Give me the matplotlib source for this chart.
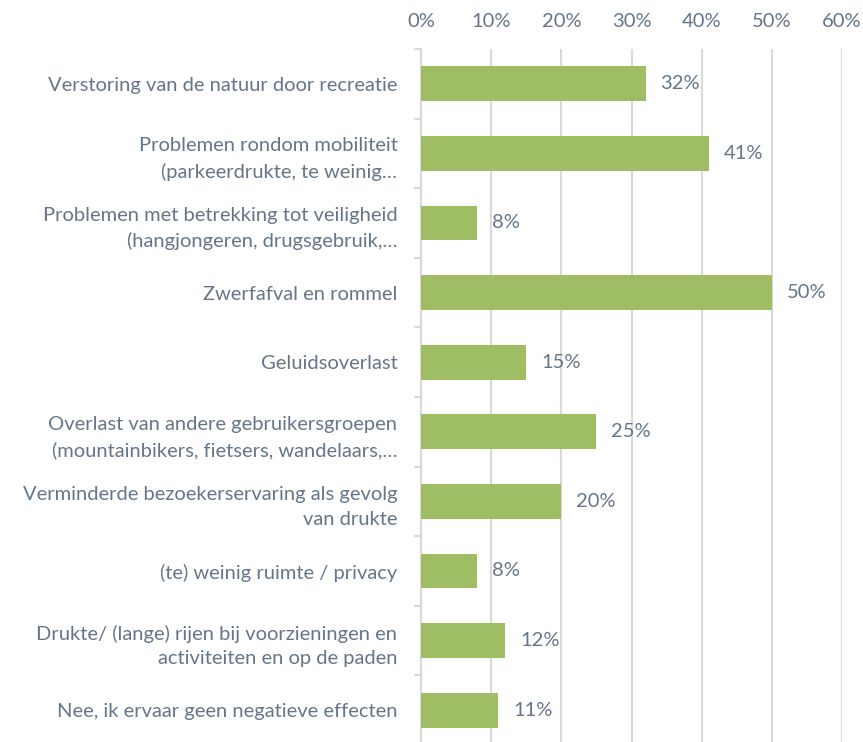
import matplotlib
matplotlib.use("Agg")
import matplotlib.pyplot as plt
from matplotlib.ticker import FixedLocator, PercentFormatter

categories = [
    "Verstoring van de natuur door recreatie",
    "Problemen rondom mobiliteit\n(parkeerdrukte, te weinig\u2026",
    "Problemen met betrekking tot veiligheid\n(hangjongeren, drugsgebruik,\u2026",
    "Zwerfafval en rommel",
    "Geluidsoverlast",
    "Overlast van andere gebruikersgroepen\n(mountainbikers, fietsers, wandelaars,\u2026",
    "Verminderde bezoekerservaring als gevolg\nvan drukte",
    "(te) weinig ruimte / privacy",
    "Drukte/ (lange) rijen bij voorzieningen en\nactiviteiten en op de paden",
    "Nee, ik ervaar geen negatieve effecten",
]
values = [32, 41, 8, 50, 15, 25, 20, 8, 12, 11]
x_ticks = [0, 10, 20, 30, 40, 50, 60]

BAR = "#9fbe64"
TEXT = "#66758a"
GRID = "#d9d9d9"
FS = 14.5

plt.rcParams["font.family"] = ["Lato", "DejaVu Sans"]

W, H = 863, 742
fig = plt.figure(figsize=(W / 100, H / 100), dpi=100)
left, right, top, bottom = 421, 842, 49, 745
ax = fig.add_axes([left / W, (H - bottom) / H, (right - left) / W, (bottom - top) / H])

y = list(range(len(categories)))
ax.barh(y, values, height=0.5, color=BAR, zorder=3)
for yi, v in zip(y, values):
    ax.text(v + 2.1, yi, f"{v}%", va="center", ha="left", fontsize=FS,
            color=TEXT)

ax.set_xlim(0, 60)
ax.set_ylim(len(categories) - 0.5, -0.5)
ax.xaxis.set_major_locator(FixedLocator(x_ticks))
ax.xaxis.set_major_formatter(PercentFormatter(decimals=0))
ax.xaxis.tick_top()
ax.tick_params(axis="x", length=0, pad=14, labelsize=FS, labelcolor=TEXT)
ax.grid(axis="x", color=GRID, linewidth=1.5, zorder=0)

ax.set_yticks(y)
ax.set_yticklabels(categories, fontsize=FS, color=TEXT, linespacing=1.55)
ax.set_yticks([i + 0.5 for i in range(-1, len(categories))], minor=True)
ax.tick_params(axis="y", which="major", length=0, pad=17)
ax.tick_params(axis="y", which="minor", length=5, width=1.5, color=GRID)

for s in ["top", "right", "bottom"]:
    ax.spines[s].set_visible(False)
ax.spines["left"].set_color(GRID)
ax.spines["left"].set_linewidth(1.5)

fig.savefig("out.png", dpi=100)
